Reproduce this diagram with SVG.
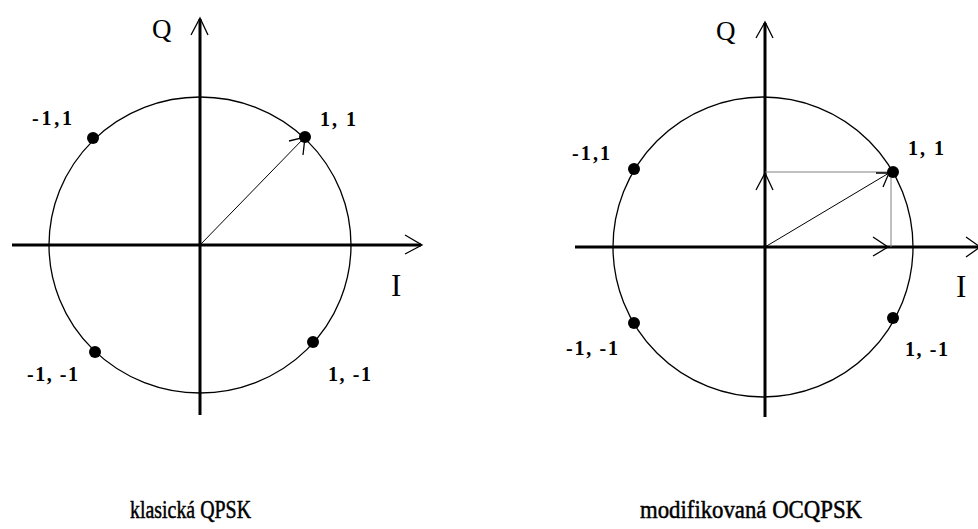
<svg xmlns="http://www.w3.org/2000/svg" width="978" height="529" viewBox="0 0 978 529">
<style>
.axis{stroke:#000;stroke-width:3;fill:none}
.head{stroke:#000;stroke-width:1.3;fill:none}
.circ{stroke:#000;stroke-width:1.3;fill:none}
.vec{stroke:#000;stroke-width:1;fill:none}
.comp{stroke:#808080;stroke-width:1;fill:none}
.dot{fill:#000}
.lbl{font-family:"Liberation Serif","Times New Roman",serif;font-weight:bold;font-size:20px;fill:#000}
.ax{font-family:"Liberation Serif","Times New Roman",serif;font-size:27px;fill:#000}
.axi{font-family:"Liberation Serif","Times New Roman",serif;font-size:31px;fill:#000}
.cap{font-family:"Liberation Serif","Times New Roman",serif;font-size:25px;fill:#000;stroke:#000;stroke-width:0.5}
</style>
<rect width="978" height="529" fill="#fff"/>
<g id="left-diagram">
  <ellipse class="circ" cx="200" cy="245" rx="151" ry="148"/>
  <g id="left-connectors">
    <line class="axis" x1="12" y1="245" x2="421" y2="245"/>
    <line class="axis" x1="200" y1="415" x2="200" y2="19"/>
    <polyline class="head" points="191,35 200,18 208,35"/>
    <polyline class="head" points="405,235 422,245 405,254"/>
    <line class="vec" x1="200" y1="245" x2="305" y2="137"/>
    <polyline class="head" points="289,141 305,137 303,155"/>
  </g>
  <g id="left-points">
    <circle class="dot" cx="93" cy="138" r="6"/>
    <circle class="dot" cx="305" cy="137" r="6"/>
    <circle class="dot" cx="95" cy="352" r="6"/>
    <circle class="dot" cx="313" cy="342" r="6"/>
  </g>
  <text class="lbl" x="32" y="125" textLength="40" lengthAdjust="spacing">-1,1</text>
  <text class="lbl" x="320" y="126" textLength="36" lengthAdjust="spacing">1, 1</text>
  <text class="lbl" x="27" y="381" textLength="51" lengthAdjust="spacing">-1, -1</text>
  <text class="lbl" x="328" y="381" textLength="43" lengthAdjust="spacing">1, -1</text>
  <text class="ax" x="152" y="38">Q</text>
  <text class="axi" x="391" y="296">I</text>
  <text class="cap" x="130" y="518" textLength="121" lengthAdjust="spacingAndGlyphs">klasická QPSK</text>
</g>
<g id="right-diagram">
  <ellipse class="circ" cx="763" cy="247" rx="150" ry="150"/>
  <g id="right-connectors">
    <line class="axis" x1="575" y1="247" x2="980" y2="247"/>
    <line class="axis" x1="765" y1="417" x2="765" y2="23"/>
    <polyline class="head" points="756,38 765,22 773,38"/>
    <polyline class="head" points="966,237 980,247 966,257"/>
    <line class="comp" x1="765" y1="172" x2="891" y2="172"/>
    <line class="comp" x1="891" y1="172" x2="891" y2="247"/>
    <polyline class="head" points="756,190 765,173 773,190"/>
    <polyline class="head" points="873,237 888,247 873,256"/>
    <line class="vec" x1="765" y1="247" x2="889" y2="173"/>
    <polyline class="head" points="876,173 889,173 883,187"/>
  </g>
  <g id="right-points">
    <circle class="dot" cx="634" cy="169" r="6"/>
    <circle class="dot" cx="893" cy="172" r="6"/>
    <circle class="dot" cx="634" cy="323" r="6"/>
    <circle class="dot" cx="893" cy="318" r="6"/>
  </g>
  <text class="lbl" x="572" y="160" textLength="38" lengthAdjust="spacing">-1,1</text>
  <text class="lbl" x="908" y="155" textLength="36" lengthAdjust="spacing">1, 1</text>
  <text class="lbl" x="566" y="355" textLength="52" lengthAdjust="spacing">-1, -1</text>
  <text class="lbl" x="905" y="356" textLength="43" lengthAdjust="spacing">1, -1</text>
  <text class="ax" x="716" y="40">Q</text>
  <text class="axi" x="956" y="297">I</text>
  <text class="cap" x="640" y="518" textLength="222" lengthAdjust="spacingAndGlyphs">modifikovaná OCQPSK</text>
</g>
</svg>
